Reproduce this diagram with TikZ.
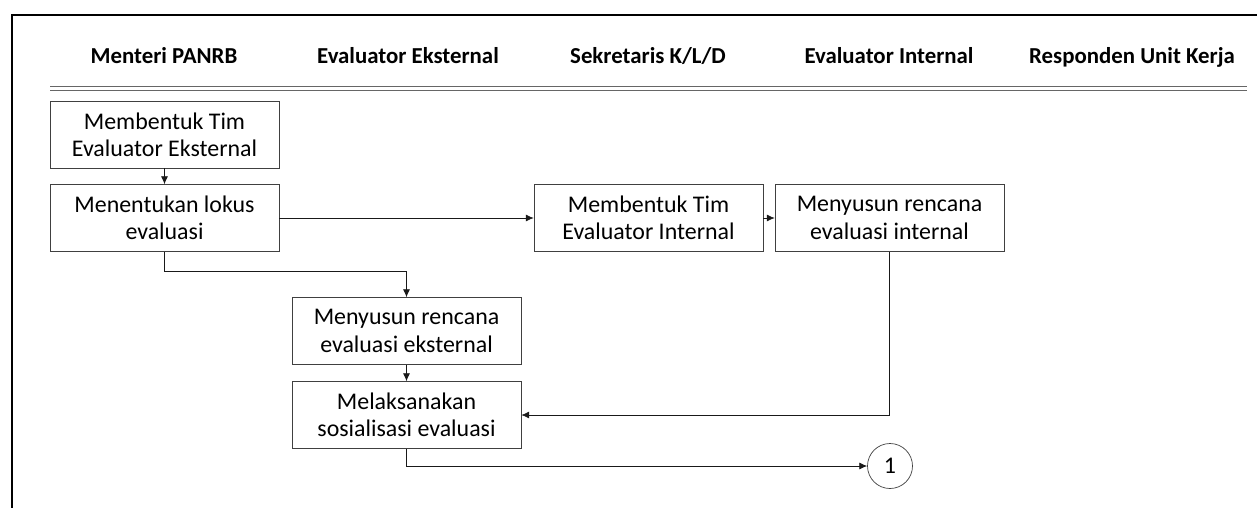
\documentclass[tikz,border=0pt]{standalone}
\usepackage{fontspec}
\setmainfont{Carlito}
\usepackage{tikz}
\usetikzlibrary{positioning, arrows.meta, calc}

\begin{document}
\begin{tikzpicture}[x=0.02cm, y=-0.02cm,
                    every node/.style={font=\fontsize{13.6}{15.6}\selectfont},
                    lane/.style={font=\fontsize{13}{15}\selectfont\bfseries, anchor=base},
                    box/.style={rectangle, draw=black!75, minimum width=4.58cm, minimum height=1.34cm, align=center, inner sep=2pt},
                    conn/.style={circle, draw=black!75, minimum size=0.9cm, inner sep=0pt},
                    arr/.style={-{Latex[length=4.5pt, width=4pt]}, black!90}]
                    \useasboundingbox (0,0) rectangle (1257,508);

                    % Frame
                    \draw[line width=1.1pt] (1257,15) -- (12,15) -- (12,508);

                    % Lanes
                    \node[lane] (menteri) at (164,63) {Menteri PANRB};
                    \node[lane] (evaleks) at (408,63) {Evaluator Eksternal};
                    \node[lane] (sekretaris) at (648,63) {Sekretaris K/L/D};
                    \node[lane] (evalint) at (889,63) {Evaluator Internal};
                    \node[lane] (responden) at (1132,63) {Responden Unit Kerja};
                    \coordinate (garisA) at (50,88.5);
                    \coordinate (garisB) at (1247,88.5);
                    \draw[black!60, double=white, double distance=1.3pt, line width=0.6pt] (garisA) -- (garisB);

                    % Nodes
                    \node[box] (timeks) at (164.5,134.5) {Membentuk Tim\\Evaluator Eksternal};
                    \node[box] (lokus) at (164.5,218) {Menentukan lokus\\evaluasi};
                    \node[box] (timint) at (648.5,218) {Membentuk Tim\\Evaluator Internal};
                    \node[box] (rencanaint) at (889.5,218) {Menyusun rencana\\evaluasi internal};
                    \node[box] (rencanaeks) at (406.5,331) {Menyusun rencana\\evaluasi eksternal};
                    \node[box] (sosialisasi) at (406.5,415) {Melaksanakan\\sosialisasi evaluasi};
                    \node[conn] (satu) at (890,466) {1};

                    % Edges
                    % timeks to lokus
                    \draw[arr] (timeks) -- (lokus);

                    % lokus to timint
                    \draw[arr] (lokus) -- (timint);

                    % timint to rencanaint
                    \draw[arr] (timint) -- (rencanaint);

                    % lokus to rencanaeks
                    \draw[arr] (lokus.south) -- ++(0,19) -| (rencanaeks.north);

                    % rencanaeks to sosialisasi
                    \draw[arr] (rencanaeks) -- (sosialisasi);

                    % rencanaint to sosialisasi
                    \draw[arr] (rencanaint.south) |- (sosialisasi.east);

                    % sosialisasi to satu
                    \draw[arr] (sosialisasi.south) |- (satu.west);

                \end{tikzpicture}
\end{document}
